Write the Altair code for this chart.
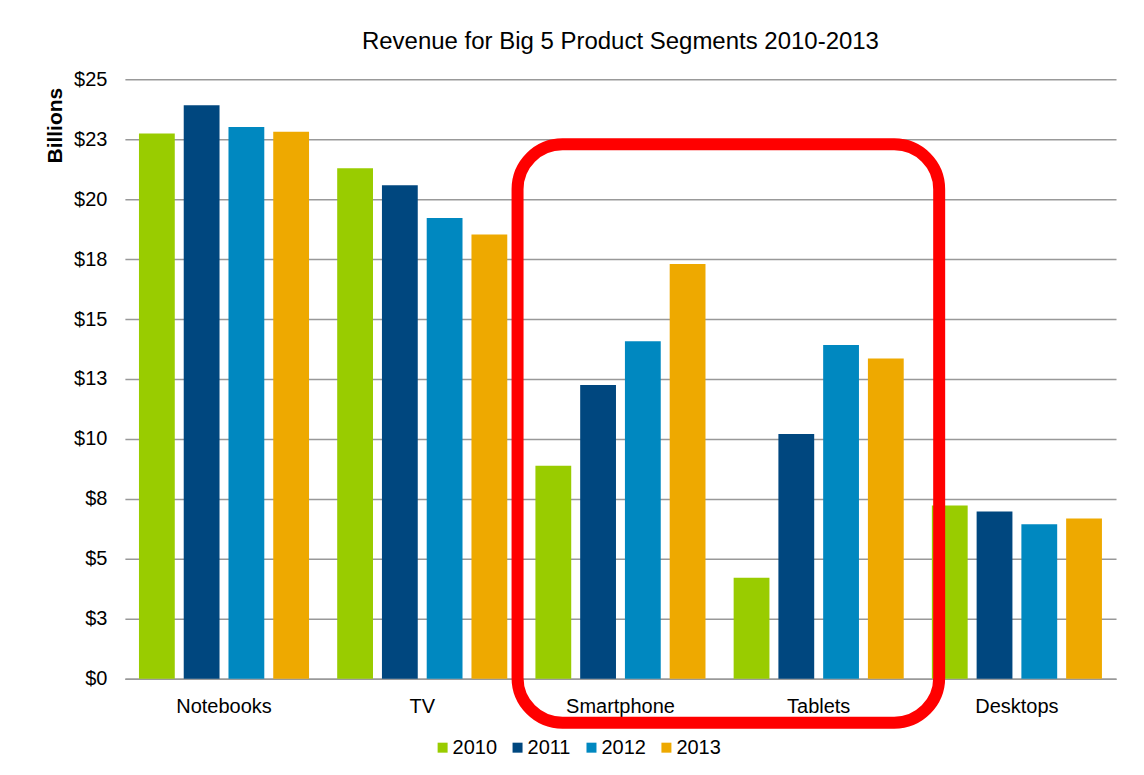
import altair as alt
import pandas as pd

categories = ["Notebooks", "TV", "Smartphone", "Tablets", "Desktops"]
years = ["2010", "2011", "2012", "2013"]
rev_2010 = [22.74, 21.29, 8.88, 4.21, 7.22]
rev_2011 = [23.92, 20.58, 12.25, 10.21, 6.97]
rev_2012 = [23.01, 19.21, 14.07, 13.92, 6.44]
rev_2013 = [22.81, 18.53, 17.30, 13.36, 6.68]
colors = ["#99CC00", "#00477F", "#0088C0", "#EEA900"]
y_ticks = [0, 2.5, 5, 7.5, 10, 12.5, 15, 17.5, 20, 22.5, 25]

rows = []
for yr, vals in zip(years, [rev_2010, rev_2011, rev_2012, rev_2013]):
    for c, v in zip(categories, vals):
        rows.append({"Segment": c, "Year": yr, "Revenue": v})
df = pd.DataFrame(rows)

FONT = "Liberation Sans"

bars = alt.Chart(df).mark_bar().encode(
    x=alt.X("Segment:N", sort=categories,
            scale=alt.Scale(paddingInner=0.142, paddingOuter=0.071),
            axis=alt.Axis(title=None, labelAngle=0, ticks=False, grid=False,
                          labelFontSize=20, labelPadding=18, labelColor="#000",
                          domainColor="#999999", domainWidth=1.5)),
    xOffset=alt.XOffset("Year:N", sort=years,
                        scale=alt.Scale(paddingInner=0.2, paddingOuter=0)),
    y=alt.Y("Revenue:Q", scale=alt.Scale(domain=[0, 25], nice=False),
            axis=alt.Axis(values=y_ticks, title="Billions",
                          labelExpr="'$' + round(datum.value)",
                          labelFontSize=20, labelColor="#000", labelPadding=18,
                          ticks=False, domain=False,
                          gridColor="#999999", gridWidth=1.5,
                          titleFontSize=21, titleFontWeight="bold", titleColor="#000",
                          titleAngle=270, titleAlign="right", titleBaseline="middle",
                          titleX=-69, titleY=8)),
    color=alt.Color("Year:N", sort=years,
                    scale=alt.Scale(domain=years, range=colors),
                    legend=alt.Legend(title=None, orient="none", direction="horizontal",
                                      legendX=308, legendY=659, padding=0,
                                      symbolType="square", symbolSize=100,
                                      symbolStrokeWidth=0, labelFontSize=20,
                                      labelOffset=0, columnPadding=10,
                                      labelColor="#000")),
)

highlight = alt.Chart(pd.DataFrame({"k": [0]})).mark_rect(
    filled=False, stroke="#FF0000", strokeWidth=12, cornerRadius=45
).encode(
    x=alt.value(393), x2=alt.value(815), y=alt.value(65), y2=alt.value(644)
)

chart = alt.layer(bars, highlight).properties(
    width=992, height=600,
    title=alt.TitleParams("Revenue for Big 5 Product Segments 2010-2013",
                          fontSize=24, fontWeight="normal", font=FONT,
                          color="#000", anchor="middle", offset=15),
    autosize=alt.AutoSizeParams(type="none"),
    padding={"left": 117, "top": 71, "right": 20, "bottom": 80},
).configure(font=FONT, background="white").configure_view(stroke=None).configure_axis(
    labelFont=FONT, titleFont=FONT
).configure_legend(labelFont=FONT)

chart.save("out.html", embed_options={"renderer": "svg", "actions": False})
